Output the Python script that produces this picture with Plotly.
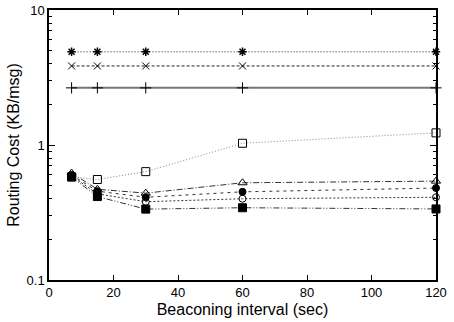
import plotly.graph_objects as go

# Beaconing intervals (sec)
intervals = [7, 15, 30, 60, 120]

# Routing cost per scheme (KB/msg)
cost_star = [4.9, 4.9, 4.9, 4.9, 4.9]
cost_x = [3.85, 3.85, 3.85, 3.85, 3.85]
cost_plus = [2.65, 2.65, 2.65, 2.65, 2.65]
cost_open_square = [0.58, 0.555, 0.635, 1.03, 1.23]
cost_triangle = [0.62, 0.47, 0.44, 0.525, 0.54]
cost_filled_circle = [0.6, 0.455, 0.41, 0.45, 0.48]
cost_open_circle = [0.59, 0.435, 0.38, 0.4, 0.41]
cost_filled_square = [0.58, 0.415, 0.335, 0.343, 0.336]

y_ticks = [0.1, 1, 10]
x_ticks = [0, 20, 40, 60, 80, 100, 120]

series = [
    (cost_star, "asterisk-open", "1px,2px", "#222", 1, 7, 1.5),
    (cost_x, "x-thin-open", "3px,2px", "#222", 1, 7, 1),
    (cost_plus, "cross-thin-open", "solid", "#777", 2, 8, 1),
    (cost_open_square, "square-open", "1px,2px", "#888", 1, 8, 1),
    (cost_triangle, "triangle-up-open", "6px,2px,1px,2px", "#333", 1, 8, 1),
    (cost_filled_circle, "circle", "3px,4px", "#333", 1, 7, 1),
    (cost_open_circle, "circle-open", "2px,2px", "#333", 1, 7, 1),
    (cost_filled_square, "square", "6px,2px,1px,2px,1px,2px", "#333", 1, 8, 1),
]

fig = go.Figure()
for vals, sym, dash, lc, lw, ms, mlw in series:
    fig.add_trace(go.Scatter(
        x=intervals, y=vals, mode="lines+markers",
        line=dict(color=lc, width=lw, dash=dash),
        marker=dict(symbol=sym, size=ms, color="#000",
                    line=dict(color="#000", width=mlw)),
        showlegend=False, cliponaxis=False,
    ))

axis_font = dict(family="Liberation Sans, Arial, sans-serif", size=13, color="#000")

fig.update_layout(
    width=454, height=322,
    margin=dict(l=49, r=18, t=10, b=42),
    paper_bgcolor="white", plot_bgcolor="white",
    font=axis_font,
    xaxis=dict(
        range=[0, 120], tickvals=x_ticks, ticks="inside", ticklen=5,
        tickcolor="#000", showline=True, linecolor="#000", linewidth=1.5,
        mirror="ticks", showgrid=False, zeroline=False, automargin=False,
        title=dict(text="Beaconing interval (sec)", standoff=4),
        tickfont=axis_font,
    ),
    yaxis=dict(
        type="log", range=[-1, 1], tickvals=y_ticks, ticktext=["0.1", "1", "10"],
        ticks="inside", ticklen=6, tickcolor="#000",
        showline=True, linecolor="#000", linewidth=1.5, mirror="ticks",
        showgrid=False, zeroline=False, automargin=False,
        minor=dict(ticks="inside", ticklen=3, tickcolor="#000",
                   tickvals=[0.2, 0.3, 0.4, 0.5, 0.6, 0.7, 0.8, 0.9,
                             2, 3, 4, 5, 6, 7, 8, 9], showgrid=False),
        title=dict(text="Routing Cost (KB/msg)", standoff=3),
        tickfont=axis_font,
    ),
)

fig.write_html("out.html")
